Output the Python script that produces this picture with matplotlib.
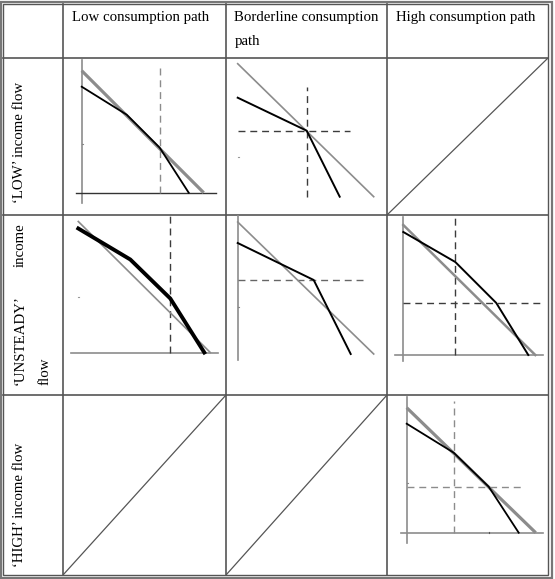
import matplotlib.pyplot as plt

W, H = 555, 579
plt.rcParams['font.family'] = ['Liberation Serif', 'DejaVu Serif']

# table layout (pixels)
col_edges = [3, 63, 226, 387, 548]
row_edges = [4, 58, 215, 395, 575]

col_titles = ["Low consumption path", "Borderline consumption\npath", "High consumption path"]
row_titles = ["\u2018LOW\u2019 income flow", None, "\u2018HIGH\u2019 income flow"]

GRAY = '#8c8c8c'
DASH = '#3c3c3c'

# panel data, units = income (x) / consumption (y) on a 0..14 scale
# A: LOW flow, low path
A_budget_x = [0, 12.2]
A_budget_y = [12.2, 0]
A_path_x = [0, 4.5, 7.8, 10.7]
A_path_y = [10.6, 7.8, 4.5, 0]
A_vline = 7.8

# B: LOW flow, borderline path
B_budget_x = [0, 13.6]
B_budget_y = [13.3, 0]
B_path_x = [0, 6.9, 10.2]
B_path_y = [9.9, 6.6, 0]
B_cross = (6.9, 6.6)

# D: UNSTEADY flow, low path
D_budget_x = [0, 13.2]
D_budget_y = [13.1, 0]
D_path_x = [0, 5.2, 9.2, 12.6]
D_path_y = [12.4, 9.3, 5.4, 0]
D_vline = 9.2

# E: UNSTEADY flow, borderline path
E_budget_x = [0, 13.6]
E_budget_y = [13.2, 0]
E_path_x = [0, 7.6, 11.3]
E_path_y = [11.1, 7.4, 0]
E_hline = 7.4

# F: UNSTEADY flow, high path
F_budget_x = [0, 13.2]
F_budget_y = [13.0, 0]
F_path_x = [0, 5.2, 9.3, 12.5]
F_path_y = [12.3, 9.3, 5.2, 0]
F_cross = (5.2, 5.2)

# I: HIGH flow, high path
I_budget_x = [0, 12.9]
I_budget_y = [12.5, 0]
I_path_x = [0, 4.7, 8.2, 11.2]
I_path_y = [10.9, 8.0, 4.6, 0]
I_cross = (4.7, 4.6)

fig = plt.figure(figsize=(W / 100, H / 100), dpi=100)

bg = fig.add_axes([0, 0, 1, 1])
bg.set_xlim(0, W)
bg.set_ylim(H, 0)
bg.axis('off')

# double outer border
bg.add_patch(plt.Rectangle((1, 2), 551, 576, fill=False, ec='#777777', lw=1.6))
bg.add_patch(plt.Rectangle((3, 4), 545, 571, fill=False, ec='#555555', lw=1.0))
for x in col_edges[1:-1]:
    bg.plot([x, x], [row_edges[0], row_edges[-1]], color='#555555', lw=1.2)
for y in row_edges[1:-1]:
    bg.plot([col_edges[0], col_edges[-1]], [y, y], color='#555555', lw=1.2)

fs = 10.7
for i, t in enumerate(col_titles):
    lines = t.split('\n')
    for k, ln in enumerate(lines):
        bg.text(col_edges[i + 1] + 8.5, 21 + 24.5 * k, ln, fontsize=fs, va='baseline', ha='left')

bg.text(20, 203, row_titles[0], rotation=90, fontsize=fs, ha='center', va='bottom')
bg.text(20, 567, row_titles[2], rotation=90, fontsize=fs, ha='center', va='bottom')
bg.text(20, 385, "\u2018UNSTEADY\u2019", rotation=90, fontsize=fs, ha='center', va='bottom')
bg.text(20, 223, "income", rotation=90, fontsize=fs, ha='center', va='top')
bg.text(45, 385, "flow", rotation=90, fontsize=fs, ha='center', va='bottom')


def panel(col, row, ox, oy):
    cl, cr = col_edges[col + 1], col_edges[col + 2]
    ct, cb = row_edges[row + 1], row_edges[row + 2]
    ax = fig.add_axes([cl / W, 1 - cb / H, (cr - cl) / W, (cb - ct) / H])
    ax.set_xlim((cl - ox) / 10, (cr - ox) / 10)
    ax.set_ylim((oy - cb) / 10, (oy - ct) / 10)
    ax.axis('off')
    ax.patch.set_alpha(0)
    return ax


def diagonal(col, row):
    ax = panel(col, row, col_edges[col + 1], row_edges[row + 2])
    x0, x1 = ax.get_xlim()
    y0, y1 = ax.get_ylim()
    ax.plot([x0, x1], [y0, y1], color='#555555', lw=0.9)


dash_kw = dict(ls=(0, (5, 3.5)), lw=1.0)

# A
ax = panel(0, 0, 81.7, 192.7)
ax.plot([0, 0], [-1.0, 13.3], color=GRAY, lw=1.2)
ax.plot([-0.6, 13.4], [0, 0], color='#333333', lw=1.0)
ax.plot([A_vline, A_vline], [0, 12.9], color=GRAY, **dash_kw)
ax.plot(A_budget_x, A_budget_y, color=GRAY, lw=2.3, solid_capstyle='butt')
ax.plot(A_path_x, A_path_y, color='black', lw=1.3)
ax.plot([0, 0.15], [4.9, 4.9], color='#888888', lw=0.8)

# B
ax = panel(1, 0, 237.7, 196.7)
ax.plot([0, 11.2], [B_cross[1], B_cross[1]], color=DASH, **dash_kw)
ax.plot([B_cross[0], B_cross[0]], [0, 11.0], color=DASH, **dash_kw)
ax.plot(B_budget_x, B_budget_y, color=GRAY, lw=1.2)
ax.plot(B_path_x, B_path_y, color='black', lw=1.4)
ax.plot([0, 0.1], [4.0, 4.0], color='#999999', lw=0.8)

# C
diagonal(2, 0)

# D
ax = panel(0, 1, 78.3, 352.5)
ax.plot([-0.7, 14.0], [0, 0], color=GRAY, lw=1.2)
ax.plot([D_vline, D_vline], [0, 13.75], color=DASH, **dash_kw)
ax.plot(D_budget_x, D_budget_y, color=GRAY, lw=1.2)
ax.plot(D_path_x, D_path_y, color='black', lw=2.8)
ax.plot([0, 0.1], [5.6, 5.6], color='#999999', lw=0.8)

# E
ax = panel(1, 1, 237.7, 354)
ax.plot([0, 0], [-0.6, 13.9], color=GRAY, lw=1.2)
ax.plot([0, 12.5], [E_hline, E_hline], color='#666666', **dash_kw)
ax.plot(E_budget_x, E_budget_y, color=GRAY, lw=1.2)
ax.plot(E_path_x, E_path_y, color='black', lw=1.4)
ax.plot([0, 0.15], [4.7, 4.7], color='#888888', lw=0.8)

# F
ax = panel(2, 1, 403.3, 355)
ax.plot([0, 0], [-0.6, 13.8], color=GRAY, lw=1.2)
ax.plot([-0.8, 14.0], [0, 0], color=GRAY, lw=1.2)
ax.plot([F_cross[0], F_cross[0]], [0, 13.8], color=DASH, **dash_kw)
ax.plot([0, 14.0], [F_cross[1], F_cross[1]], color=DASH, **dash_kw)
ax.plot(F_budget_x, F_budget_y, color=GRAY, lw=1.8)
ax.plot(F_path_x, F_path_y, color='black', lw=1.4)

# G, H
diagonal(0, 2)
diagonal(1, 2)

# I
ax = panel(2, 2, 406.7, 532.7)
ax.plot([0, 0], [-1.0, 13.6], color=GRAY, lw=1.2)
ax.plot([-0.6, 13.6], [0, 0], color=GRAY, lw=1.2)
ax.plot([I_cross[0], I_cross[0]], [0, 13.2], color=GRAY, **dash_kw)
ax.plot([0, 11.8], [I_cross[1], I_cross[1]], color=GRAY, **dash_kw)
ax.plot(I_budget_x, I_budget_y, color=GRAY, lw=2.3, solid_capstyle='butt')
ax.plot(I_path_x, I_path_y, color='black', lw=1.3)
ax.plot([0, 0.15], [5.0, 5.0], color='#888888', lw=0.8)
ax.plot([8.2, 8.2], [0, 0.1], color='#555555', lw=0.8)

fig.savefig('out.png', dpi=100)
